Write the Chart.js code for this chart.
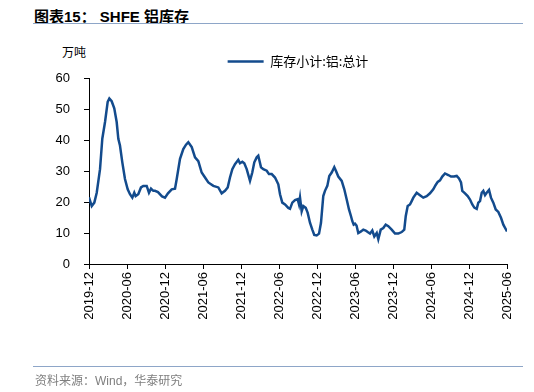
<!DOCTYPE html>
<html>
<head>
<meta charset="utf-8">
<script src="https://cdn.jsdelivr.net/npm/chart.js@4.4.1/dist/chart.umd.min.js"></script>
<style>
  html, body { margin: 0; padding: 0; background: #fff; }
  #wrap { position: relative; width: 534px; height: 392px; overflow: hidden; }
  #chart { position: absolute; left: 0; top: 0; }
  .title { position: absolute; left: 34px; top: 5px; font: bold 15px "Liberation Sans", "Noto Sans CJK SC", sans-serif; color: #000; white-space: nowrap; }
  .rule { position: absolute; left: 33px; width: 490px; height: 0; border-top: 1.5px solid #8ea6c8; }
  .unit { position: absolute; left: 62px; top: 43px; font: 12px "Noto Sans CJK SC", sans-serif; color: #000; }
  .source { position: absolute; left: 35px; top: 371px; font: 12px "Liberation Sans", "Noto Sans CJK SC", sans-serif; color: #7f7f7f; white-space: nowrap; }
</style>
</head>
<body>
<div id="wrap">
  <div class="title">图表15： SHFE 铝库存</div>
  <div class="rule" style="top:23px"></div>
  <div class="unit">万吨</div>
  <canvas id="chart" width="534" height="392"></canvas>
  <div class="rule" style="top:366px"></div>
  <div class="source">资料来源：Wind，华泰研究</div>
</div>
<script>
// x: months since 2019-12, y: SHFE aluminium stocks, 万吨
const seriesName = '库存小计:铝:总计';

const monthIdx = [
  0, 0.43, 0.84, 1.22, 1.74, 2.10, 2.53, 2.95, 3.21, 3.58, 3.99, 4.37, 4.63, 4.89,
  5.26, 5.68, 6.11, 6.47, 6.84, 7.15, 7.37, 7.78, 8.21, 8.57, 9.11, 9.47, 9.79, 10.15,
  10.42, 10.89, 11.53, 12.00, 12.47, 13.06, 13.58, 13.85, 14.37, 14.89, 15.32, 15.68,
  16.22, 16.74, 17.26, 17.79, 18.32, 18.84, 19.63, 20.42, 20.95, 21.47, 21.90, 22.26,
  22.63, 23.05, 23.57, 23.84, 24.21, 24.52, 24.90, 25.42, 25.78, 26.10, 26.48, 26.73,
  27.16, 27.52, 28.06, 28.42, 28.85, 29.37, 29.89, 30.16, 30.52, 30.95, 31.47, 31.74,
  32.10, 32.53, 32.95, 33.16, 33.32, 33.58, 33.84, 34.22, 34.53, 34.89, 35.26, 35.57,
  35.95, 36.32, 36.63, 36.99, 37.26, 37.63, 37.94, 38.32, 38.73, 39.00, 39.36, 39.90,
  40.31, 40.69, 41.05, 41.37, 41.58, 41.79, 42.00, 42.24, 42.52, 42.95, 43.31, 43.69,
  44.01, 44.37, 44.73, 45.05, 45.43, 45.68, 46.06, 46.47, 46.85, 47.26, 47.79, 48.32,
  48.84, 49.37, 49.78, 50.01, 50.32, 50.68, 50.95, 51.21, 51.74, 52.26, 52.78, 53.32,
  53.84, 54.36, 54.74, 55.06, 55.42, 55.78, 56.21, 56.73, 57.16, 57.63, 58.06, 58.42,
  58.74, 58.94, 59.37, 59.79, 60.16, 60.52, 60.84, 61.22, 61.47, 61.74, 62.01, 62.26,
  62.53, 62.79, 63.16, 63.47, 63.84, 64.22, 64.63, 65.05, 65.42, 65.79, 66.0
];

const stock = [
  21.5, 18.7, 19.8, 23.0, 30.6, 40.4, 45.8, 52.3, 53.4, 52.5, 50.2, 45.8, 40.4, 38.2,
  32.8, 27.4, 24.1, 22.5, 21.4, 23.0, 21.9, 22.5, 24.7, 25.2, 25.2, 23.0, 24.3, 23.6,
  23.6, 23.2, 21.8, 21.4, 22.8, 24.1, 24.3, 27.4, 33.9, 37.1, 38.5, 39.3,
  37.7, 34.4, 33.2, 29.5, 27.9, 26.3, 25.2, 24.7, 22.8, 23.6, 24.7, 27.9,
  30.6, 32.2, 33.6, 32.5, 33.0, 32.5, 30.6, 26.8, 29.5, 32.8, 34.4, 34.9,
  31.2, 30.6, 30.1, 29.0, 29.0, 27.9, 25.7, 22.5, 19.8, 19.2, 18.1, 17.8,
  19.8, 20.6, 20.9, 19.2, 21.4, 17.0, 18.7, 18.1, 16.5, 13.3, 11.1, 9.4,
  9.2, 9.8, 13.3, 21.9, 23.6, 25.2, 28.4, 29.5, 31.2, 30.0, 28.2, 26.8,
  24.1, 20.8, 17.6, 15.4, 13.8, 12.7, 13.0, 12.4, 10.0, 10.5, 11.1, 10.8,
  10.3, 9.8, 10.8, 8.9, 10.0, 8.0, 11.1, 11.6, 12.7, 12.2, 11.1, 9.8,
  9.8, 10.3, 11.1, 15.4, 18.7, 19.2, 20.3, 21.4, 23.0, 22.2, 21.4, 21.9,
  22.8, 24.1, 25.5, 26.5, 27.0, 28.2, 29.2, 28.7, 28.2, 28.2, 28.4, 27.6,
  26.3, 23.6, 22.8, 21.9, 20.8, 19.2, 18.2, 17.8, 19.8, 20.3, 23.0, 23.6,
  22.2, 23.0, 23.9, 21.4, 19.8, 17.6, 16.8, 14.9, 12.7, 11.3, 10.5
];

const tickLabels = [
  '2019-12', '2020-06', '2020-12', '2021-06', '2021-12', '2022-06',
  '2022-12', '2023-06', '2023-12', '2024-06', '2024-12', '2025-06'
];

const lineColor = '#134b8d';
const numFont = { family: '"Liberation Sans", Arial, sans-serif', size: 13 };

new Chart(document.getElementById('chart'), {
  type: 'line',
  data: {
    datasets: [{
      label: seriesName,
      data: monthIdx.map((m, i) => ({ x: m, y: stock[i] })),
      borderColor: lineColor,
      backgroundColor: lineColor,
      borderWidth: 2.5,
      pointRadius: 0,
      tension: 0,
      fill: false,
    }],
  },
  options: {
    responsive: false,
    animation: false,
    layout: { padding: { top: 49, left: 0, right: 27, bottom: 58 } },
    plugins: {
      tooltip: { enabled: false },
      legend: {
        position: 'top',
        fullSize: false,
        labels: {
          usePointStyle: true,
          pointStyle: 'line',
          pointStyleWidth: 36,
          padding: 6,
          color: '#000',
          font: { family: '"Noto Sans CJK SC", sans-serif', size: 13 },
        },
      },
    },
    scales: {
      x: {
        type: 'linear',
        min: 0,
        max: 66,
        afterFit: (s) => { s.height = 70; },
        afterBuildTicks: (s) => {
          s.ticks = tickLabels.map((_, i) => ({ value: i * 6 }));
        },
        ticks: {
          autoSkip: false,
          maxRotation: 90,
          minRotation: 90,
          padding: 3,
          color: '#000',
          font: numFont,
          callback: (v) => tickLabels[Math.round(v / 6)] ?? '',
        },
        grid: { drawOnChartArea: false, drawTicks: true, tickLength: 5, color: '#000' },
        border: { display: true, color: '#000', width: 1 },
      },
      y: {
        min: 0,
        max: 60,
        afterFit: (s) => { s.width = 89; },
        ticks: { stepSize: 10, padding: 14, color: '#000', font: numFont },
        grid: { drawOnChartArea: false, drawTicks: true, tickLength: 5, color: '#000' },
        border: { display: true, color: '#000', width: 1 },
      },
    },
  },
});
</script>
</body>
</html>
